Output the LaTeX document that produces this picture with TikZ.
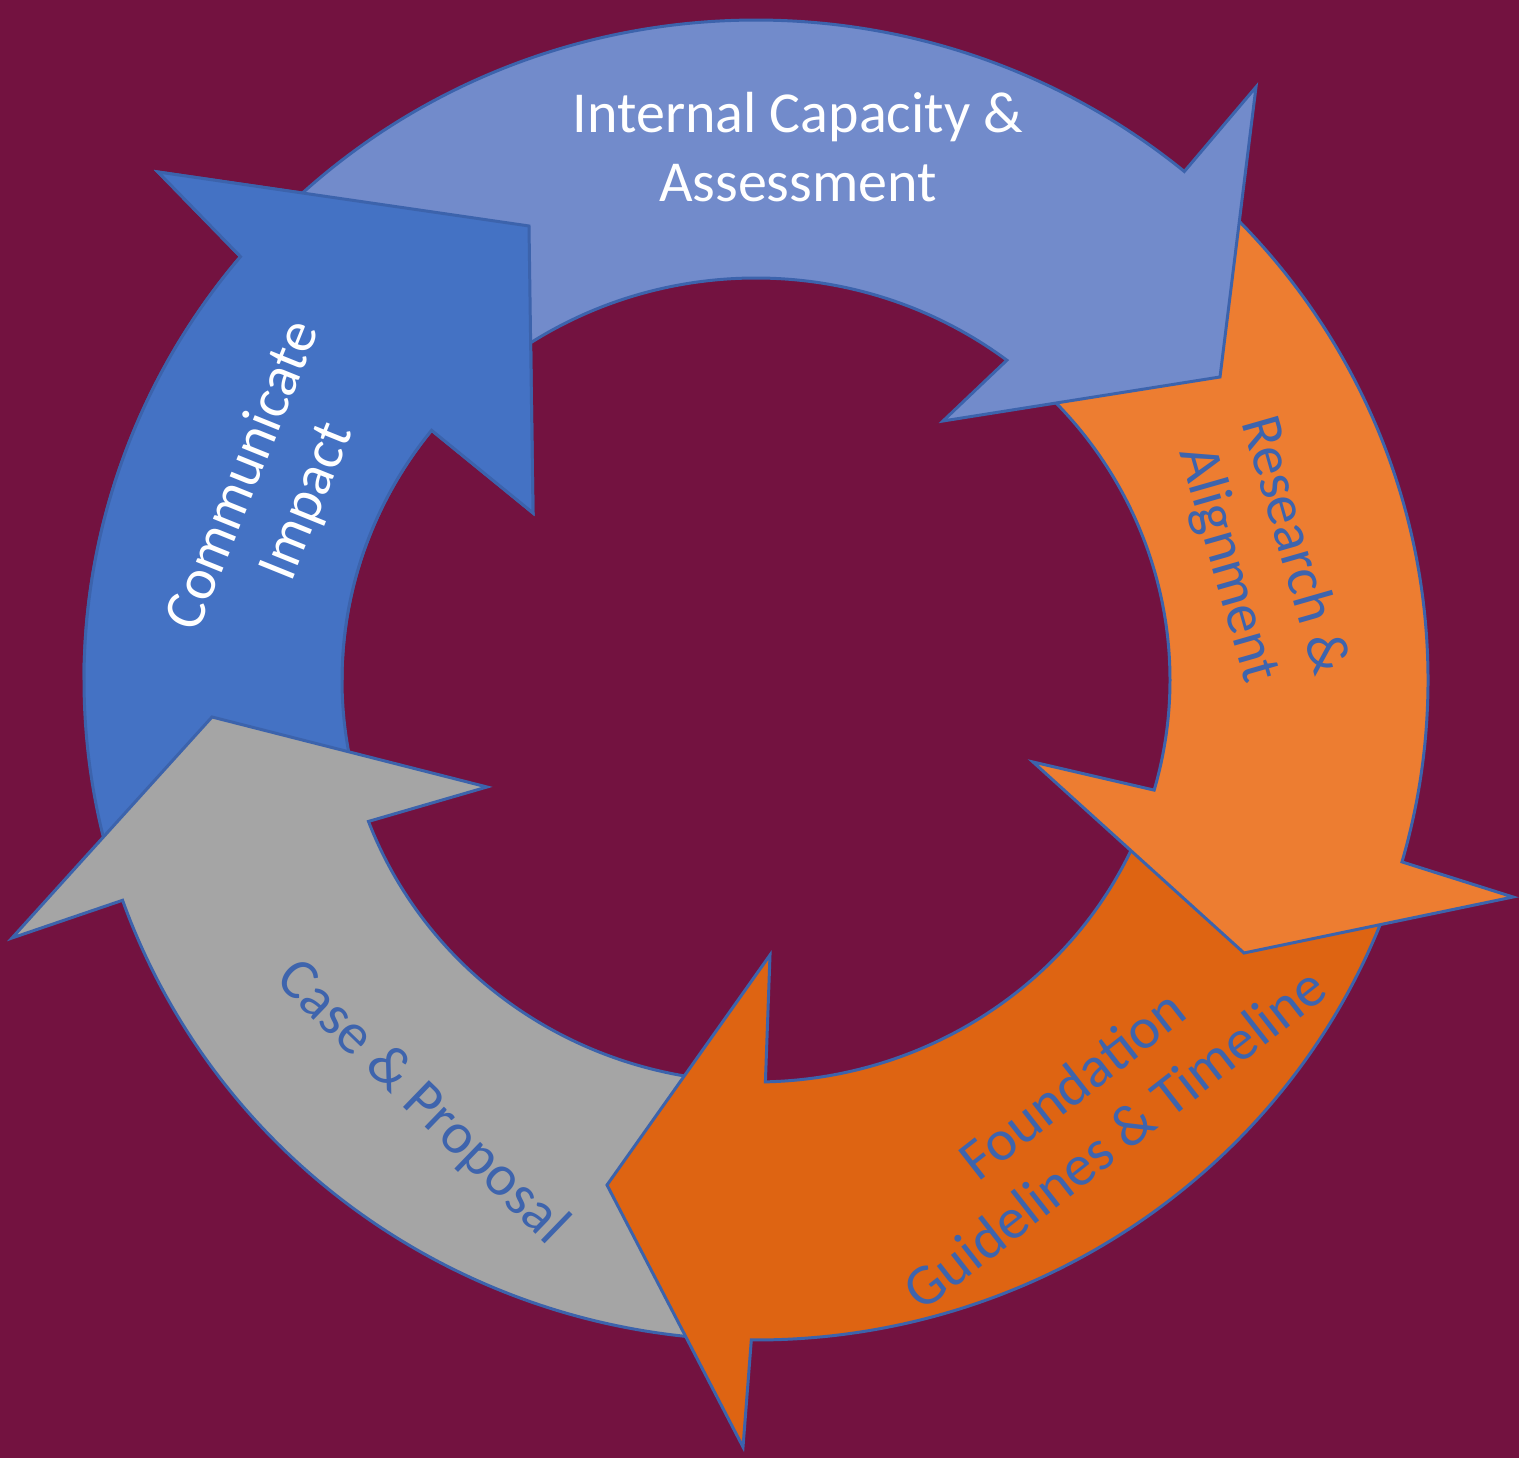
\documentclass[tikz,border=0pt]{standalone}
\usepackage{fontspec}
\setmainfont{Carlito}
\definecolor{bgplum}{HTML}{731240}
\definecolor{edgeblue}{HTML}{3C63AC}
\definecolor{capblue}{HTML}{728BCB}
\definecolor{impactblue}{HTML}{4472C4}
\definecolor{resorange}{HTML}{ED7D31}
\definecolor{fndorange}{HTML}{DE6412}
\definecolor{casegray}{HTML}{A5A5A5}
\definecolor{labelblue}{HTML}{3E64AD}

% ring radii (outer / inner ellipse)
\newcommand{\ringout}{x radius=6.72, y radius=6.60}
\newcommand{\ringin}{x radius=4.14, y radius=4.02}

% "Communicate Impact" arrow, drawn twice (second time only its head)
\newcommand{\impactshape}{(196:6.72 and 6.60) arc[start angle=196, end angle=140.1, x radius=6.72, y radius=6.60]
  -- (-5.98,5.08) -- (-2.27,4.54) -- (-2.23,1.67)
  -- (141.6:4.14 and 4.02) arc[start angle=141.6, end angle=196, x radius=4.14, y radius=4.02] -- cycle}

\begin{document}
\begin{tikzpicture}[
  stage/.style={draw=edgeblue, line width=0.85pt, line join=miter},
  lbl/.style={font=\fontsize{16.5}{19.5}\selectfont, align=center, inner sep=0pt},
]
\fill[bgplum] (0,0) rectangle (15.19,14.58);
\useasboundingbox (0,0) rectangle (15.19,14.58);

\begin{scope}[shift={(7.56,7.78)}]
  % Communicate Impact
  \filldraw[stage, fill=impactblue] \impactshape;
  % Case & Proposal
  \filldraw[stage, fill=casegray]
    (267:6.72 and 6.60) arc[start angle=267, end angle=199.5, x radius=6.72, y radius=6.60]
    -- (-7.44,-2.58) -- (-5.44,-0.37) -- (-2.69,-1.07)
    -- (200.6:4.14 and 4.02) arc[start angle=200.6, end angle=267, x radius=4.14, y radius=4.02] -- cycle;
  % Foundation Guidelines & Timeline
  \filldraw[stage, fill=fndorange]
    (-20:6.72 and 6.60) arc[start angle=-20, end angle=-90.4, x radius=6.72, y radius=6.60]
    -- (-0.13,-7.67) -- (-1.49,-5.05) -- (0.14,-2.75)
    -- (-88.7:4.14 and 4.02) arc[start angle=-88.7, end angle=-20, x radius=4.14, y radius=4.02] -- cycle;
  % Research & Alignment
  \filldraw[stage, fill=resorange]
    (47:6.72 and 6.60) arc[start angle=47, end angle=-16, x radius=6.72, y radius=6.60]
    -- (7.57,-2.17) -- (4.88,-2.73) -- (2.77,-0.82)
    -- (-15.9:4.14 and 4.02) arc[start angle=-15.9, end angle=47, x radius=4.14, y radius=4.02] -- cycle;
  % Internal Capacity & Assessment
  \filldraw[stage, fill=capblue]
    (133.5:6.72 and 6.60) arc[start angle=133.5, end angle=50.4, x radius=6.72, y radius=6.60]
    -- (5.00,5.93) -- (4.64,3.03) -- (1.87,2.59)
    -- (52.7:4.14 and 4.02) arc[start angle=52.7, end angle=124.5, x radius=4.14, y radius=4.02]
    -- (-2.31,4.48) -- cycle;
  % head of Communicate Impact laid over the tail of Internal Capacity
  \begin{scope}
    \clip (-8,0) rectangle (0,8);
    \filldraw[stage, fill=impactblue] \impactshape;
  \end{scope}
\end{scope}

\node[lbl, text=white] (cap) at (7.98,13.11) {Internal Capacity \&\\Assessment};
\node[lbl, text=labelblue, rotate=-74] (res) at (12.60,9.03) {Research \&\\Alignment};
\node[lbl, text=labelblue, rotate=38] (fnd) at (10.93,3.47) {Foundation\\Guidelines \& Timeline};
\node[lbl, text=labelblue, rotate=-44] (cas) at (4.22,3.55) {Case \& Proposal};
\node[lbl, text=white, rotate=68] (imp) at (2.76,9.69) {Communicate\\Impact};
\end{tikzpicture}
\end{document}
